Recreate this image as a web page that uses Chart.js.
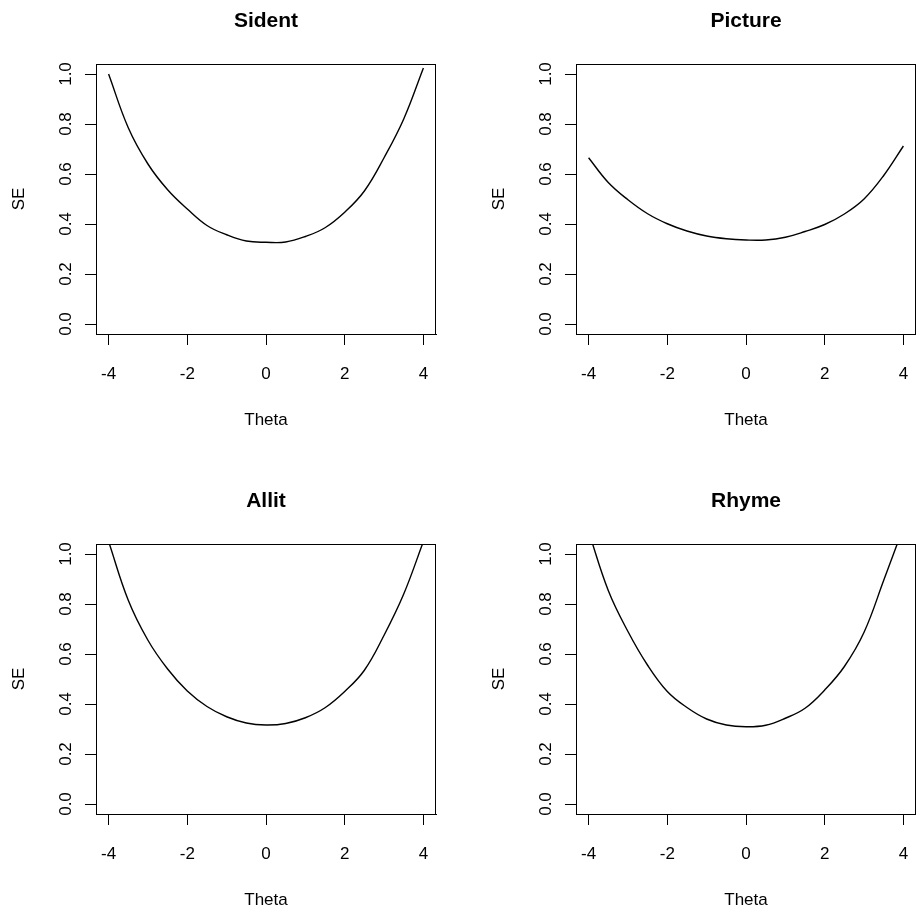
<!DOCTYPE html>
<html>
<head>
<meta charset="utf-8">
<title>SE by Theta</title>
<script src="https://cdn.jsdelivr.net/npm/chart.js@4.4.1/dist/chart.umd.min.js"></script>
<style>
  html, body { margin: 0; padding: 0; background: #fff; }
  #plots { position: relative; width: 916px; height: 913px; overflow: hidden; }
  .panel { position: absolute; width: 458px; height: 456px; }
</style>
</head>
<body>
<div id="plots">
  <div class="panel" style="left:0;top:0"><canvas id="sident" width="458" height="456"></canvas></div>
  <div class="panel" style="left:480px;top:0"><canvas id="picture" width="458" height="456"></canvas></div>
  <div class="panel" style="left:0;top:480px"><canvas id="allit" width="458" height="456"></canvas></div>
  <div class="panel" style="left:480px;top:480px"><canvas id="rhyme" width="458" height="456"></canvas></div>
</div>
<script>
// theta grid and standard error curves for each subtest
var theta = [-4, -3.5, -3, -2.5, -2, -1.5, -1, -0.5, 0, 0.5, 1, 1.5, 2, 2.5, 3, 3.5, 4];
var seSident  = [1.00, 0.785, 0.64, 0.537, 0.46, 0.394, 0.357, 0.332, 0.327, 0.328, 0.35, 0.385, 0.447, 0.532, 0.665, 0.82, 1.024];
var sePicture = [0.665, 0.566, 0.497, 0.441, 0.401, 0.372, 0.352, 0.341, 0.336, 0.336, 0.347, 0.37, 0.398, 0.44, 0.50, 0.594, 0.712];
var seAllit   = [1.05, 0.815, 0.655, 0.54, 0.452, 0.39, 0.349, 0.324, 0.316, 0.322, 0.345, 0.385, 0.45, 0.535, 0.675, 0.84, 1.05];
var seRhyme   = [1.09, 0.854, 0.69, 0.555, 0.45, 0.386, 0.34, 0.316, 0.309, 0.315, 0.343, 0.383, 0.456, 0.55, 0.687, 0.895, 1.107];

var thetaTicks = [-4, -2, 0, 2, 4];
var seTicks = [0, 0.2, 0.4, 0.6, 0.8, 1.0];

var FONT = '"Liberation Sans", Arial, Helvetica, sans-serif';

function makePanel(canvasId, name, values) {
  var points = theta.map(function (t, i) { return { x: t, y: values[i] }; });

  // box around the plot region plus the bold panel title
  var frame = {
    id: 'frame',
    afterDraw: function (chart) {
      var a = chart.chartArea;
      var ctx = chart.ctx;
      ctx.save();
      ctx.strokeStyle = '#000';
      ctx.lineWidth = 1;
      ctx.strokeRect(Math.round(a.left) + 0.5, Math.round(a.top) + 0.5,
        Math.round(a.right - a.left) - 1, Math.round(a.bottom - a.top));
      ctx.fillStyle = '#000';
      ctx.font = 'bold 21px ' + FONT;
      ctx.textAlign = 'center';
      ctx.textBaseline = 'middle';
      ctx.fillText(name, (a.left + a.right) / 2, 21);
      ctx.restore();
    }
  };

  return new Chart(document.getElementById(canvasId), {
    type: 'line',
    data: {
      datasets: [{
        data: points,
        borderColor: '#000',
        borderWidth: 1.4,
        pointRadius: 0,
        fill: false,
        tension: 0.4
      }]
    },
    options: {
      responsive: false,
      animation: false,
      events: [],
      layout: { padding: { top: 64, right: 22, bottom: 0, left: 0 } },
      plugins: {
        legend: { display: false },
        tooltip: { enabled: false }
      },
      scales: {
        x: {
          type: 'linear',
          min: -4.32,
          max: 4.32,
          afterBuildTicks: function (s) { s.ticks = thetaTicks.map(function (v) { return { value: v }; }); },
          afterFit: function (s) { s.height = 122; },
          border: { display: true, color: '#000', width: 1 },
          grid: { drawOnChartArea: false, drawTicks: true, tickLength: 11, color: '#000' },
          ticks: {
            color: '#000',
            font: { family: FONT, size: 17 },
            padding: 19,
            maxRotation: 0,
            autoSkip: false
          },
          title: {
            display: true,
            text: 'Theta',
            color: '#000',
            font: { family: FONT, size: 17 },
            padding: { top: 0, bottom: 25 }
          }
        },
        y: {
          type: 'linear',
          min: -0.04,
          max: 1.04,
          afterBuildTicks: function (s) { s.ticks = seTicks.map(function (v) { return { value: v }; }); },
          afterFit: function (s) { s.width = 96; },
          border: { display: true, color: '#000', width: 1 },
          grid: { drawOnChartArea: false, drawTicks: true, tickLength: 11, color: '#000' },
          ticks: {
            color: '#000',
            font: { family: FONT, size: 17 },
            minRotation: 90,
            maxRotation: 90,
            crossAlign: 'center',
            padding: 7,
            autoSkip: false,
            callback: function (v) { return v.toFixed(1); }
          },
          title: {
            display: true,
            text: 'SE',
            color: '#000',
            font: { family: FONT, size: 17 },
            padding: { top: 9, bottom: 0 }
          }
        }
      }
    },
    plugins: [frame]
  });
}

makePanel('sident', 'Sident', seSident);
makePanel('picture', 'Picture', sePicture);
makePanel('allit', 'Allit', seAllit);
makePanel('rhyme', 'Rhyme', seRhyme);
</script>
</body>
</html>
